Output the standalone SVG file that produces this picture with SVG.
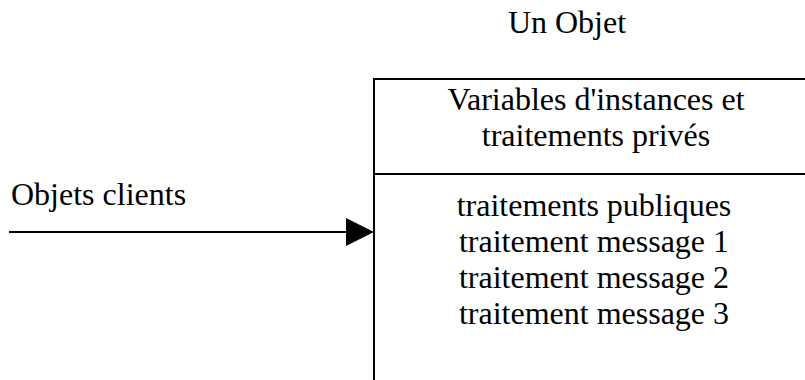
<svg xmlns="http://www.w3.org/2000/svg" width="805" height="380" viewBox="0 0 805 380">
<style>
text{font-family:"Liberation Serif","Times New Roman",serif;font-size:32px;fill:#000}
.c{text-anchor:middle}
.ln{stroke:#000;stroke-width:2;fill:none}
</style>
<rect width="805" height="380" fill="#fff"/>
<g id="title"><text class="c" x="567" y="33">Un Objet</text></g>
<g id="objet">
<rect class="ln" x="374" y="79" width="450" height="330"/>
<line class="ln" x1="374" y1="174" x2="810" y2="174"/>
<text class="c" x="596" y="110">Variables d'instances et</text>
<text class="c" x="596" y="146">traitements privés</text>
<text class="c" x="594" y="216">traitements publiques</text>
<text class="c" x="594" y="252">traitement message 1</text>
<text class="c" x="594" y="288">traitement message 2</text>
<text class="c" x="594" y="324">traitement message 3</text>
</g>
<g id="clients"><text x="11" y="205">Objets clients</text></g>
<g id="connectors">
<line class="ln" x1="9" y1="232" x2="348" y2="232"/>
<polygon points="346,218 374,232 346,246" fill="#000"/>
</g>
</svg>
